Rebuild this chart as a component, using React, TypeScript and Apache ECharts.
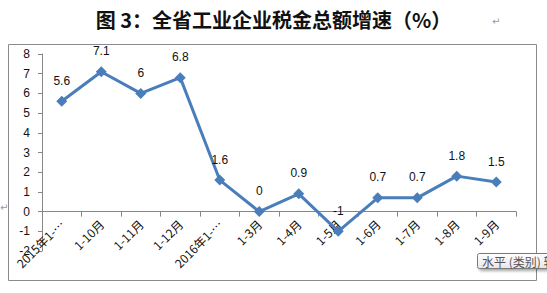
import React, { useEffect, useRef } from "react";
import * as echarts from "echarts";

const categories = [
  "2015年1-…",
  "1-10月",
  "1-11月",
  "1-12月",
  "2016年1-…",
  "1-3月",
  "1-4月",
  "1-5月",
  "1-6月",
  "1-7月",
  "1-8月",
  "1-9月",
];
const values = [5.6, 7.1, 6, 6.8, 1.6, 0, 0.9, -1, 0.7, 0.7, 1.8, 1.5];
const titleText = "图 3：全省工业企业税金总额增速（%）";
const tooltipText = "水平 (类别) 轴";

const Y_MIN = -2;
const Y_MAX = 8;
const GRID_TOP = 54;
const GRID_BOTTOM = 42;
const CHART_H = 293;

export default function App() {
  const ref = useRef<HTMLDivElement>(null);
  useEffect(() => {
    document.body.style.margin = "0";
    const chart = echarts.init(ref.current!, undefined, { renderer: "svg" });
    const plotH = CHART_H - GRID_TOP - GRID_BOTTOM;
    const zeroOffset = -((0 - Y_MIN) / (Y_MAX - Y_MIN)) * plotH;
    chart.setOption({
      animation: false,
      backgroundColor: "#fff",
      grid: {
        left: 42,
        right: 31,
        top: GRID_TOP,
        bottom: GRID_BOTTOM,
        containLabel: false,
        outerBoundsMode: "none",
      },
      xAxis: {
        type: "category",
        data: categories,
        boundaryGap: true,
        offset: zeroOffset,
        axisLine: { onZero: false, lineStyle: { color: "#868686", width: 1 } },
        axisTick: { show: true, length: 5, lineStyle: { color: "#868686" } },
        axisLabel: {
          rotate: 45,
          interval: 0,
          margin: 10,
          fontSize: 12,
          color: "#111",
          fontFamily: "Noto Sans CJK SC, Liberation Sans, sans-serif",
        },
      },
      yAxis: {
        type: "value",
        min: Y_MIN,
        max: Y_MAX,
        interval: 1,
        axisLine: { show: true, lineStyle: { color: "#868686", width: 1 } },
        axisTick: { show: true, length: 4, lineStyle: { color: "#868686" } },
        splitLine: { show: false },
        axisLabel: {
          fontSize: 12,
          color: "#111",
          margin: 12,
          fontFamily: "Liberation Sans, Arial, sans-serif",
        },
      },
      series: [
        {
          type: "line",
          data: values,
          symbol: "diamond",
          symbolSize: 11,
          itemStyle: { color: "#4A7EBB" },
          lineStyle: { color: "#4A7EBB", width: 3 },
          label: {
            show: true,
            position: "top",
            distance: 9,
            fontSize: 12,
            color: "#111",
            fontFamily: "Liberation Sans, Arial, sans-serif",
          },
        },
      ],
      graphic: [
        {
          type: "text",
          left: "center",
          top: 9,
          style: {
            text: titleText,
            font: "bold 20px 'Noto Sans CJK SC', sans-serif",
            fill: "#111",
          },
        },
        {
          type: "text",
          x: 492,
          y: 16,
          style: { text: "↵", font: "10px 'DejaVu Sans', sans-serif", fill: "#999" },
        },
        {
          type: "text",
          x: 0,
          y: 202,
          style: { text: "↵", font: "10px 'DejaVu Sans', sans-serif", fill: "#999" },
        },
        {
          type: "rect",
          shape: { x: 8.5, y: 44.5, width: 528, height: 236 },
          style: { fill: "none", stroke: "#8a8a8a", lineWidth: 1 },
          z: 10,
        },
        {
          type: "rect",
          shape: { x: 477.5, y: 253.5, width: 90, height: 15, r: 2 },
          style: {
            fill: new echarts.graphic.LinearGradient(0, 0, 0, 1, [
              { offset: 0, color: "#ffffff" },
              { offset: 1, color: "#e6e6ee" },
            ]),
            stroke: "#7a7a7a",
            lineWidth: 1,
            shadowBlur: 3,
            shadowOffsetX: 2,
            shadowOffsetY: 2,
            shadowColor: "rgba(0,0,0,0.35)",
          },
          z: 20,
        },
        {
          type: "text",
          x: 482,
          y: 261,
          style: {
            text: tooltipText,
            font: "12px 'Noto Sans CJK SC', sans-serif",
            fill: "#555",
            verticalAlign: "middle",
          },
          z: 21,
        },
      ],
    });
    return () => chart.dispose();
  }, []);
  return (
    <div
      ref={ref}
      style={{ position: "absolute", left: 0, top: 0, width: 547, height: 293 }}
    />
  );
}
